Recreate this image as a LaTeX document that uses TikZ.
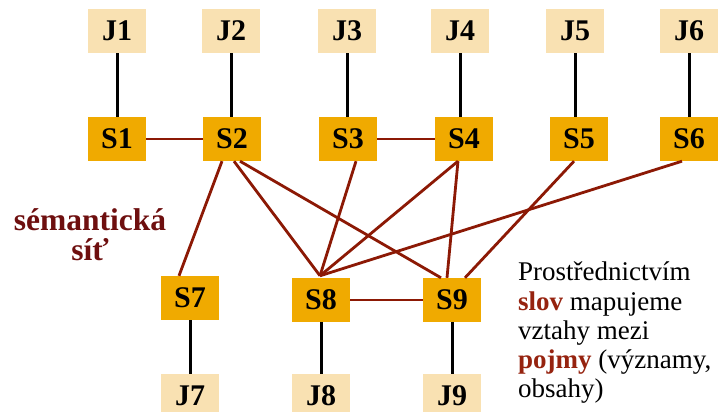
\documentclass[tikz,border=0pt]{standalone}
\usepackage{fontspec}
\setmainfont{Liberation Serif}
\definecolor{jfill}{RGB}{249,225,178}
\definecolor{sfill}{RGB}{240,170,0}
\definecolor{linkc}{RGB}{140,25,5}
\definecolor{titlec}{RGB}{110,15,15}
\definecolor{emc}{RGB}{150,35,15}
\begin{document}
\begin{tikzpicture}[x=1pt,y=-1pt,
  jbox/.style={fill=jfill,minimum width=58pt,minimum height=44pt,inner sep=0pt,font=\fontsize{30}{32}\selectfont\bfseries},
  sbox/.style={fill=sfill,minimum width=58pt,minimum height=44pt,inner sep=0pt,font=\fontsize{30}{32}\selectfont\bfseries},
  vlink/.style={draw=black,line width=3pt},
  link/.style={draw=linkc,line width=2.8pt},
  body/.style={anchor=base west,inner sep=0pt,font=\fontsize{27}{29}\selectfont},
  ttl/.style={anchor=base,inner sep=0pt,text=titlec,font=\fontsize{31.5}{32}\selectfont\bfseries}]
\clip (0,0) rectangle (724,412);
\fill[white] (0,0) rectangle (724,412);
% J nodes top
\node[jbox] (J1) at (117,31) {J1};
\node[jbox] (J2) at (231,31) {J2};
\node[jbox] (J3) at (347,31) {J3};
\node[jbox] (J4) at (460,31) {J4};
\node[jbox] (J5) at (575,31) {J5};
\node[jbox] (J6) at (689,31) {J6};
% S nodes
\node[sbox] (S1) at (117,139) {S1};
\node[sbox] (S2) at (232,139) {S2};
\node[sbox] (S3) at (348,139) {S3};
\node[sbox] (S4) at (464,139) {S4};
\node[sbox] (S5) at (579,139) {S5};
\node[sbox] (S6) at (689,139) {S6};
\node[sbox] (S7) at (190,298) {S7};
\node[sbox] (S8) at (321,300) {S8};
\node[sbox] (S9) at (452,300) {S9};
% J nodes bottom
\node[jbox] (J7) at (190,396) {J7};
\node[jbox] (J8) at (321,396) {J8};
\node[jbox] (J9) at (452,396) {J9};
% vertical black links
\foreach \a/\b in {J1/S1,J2/S2,J3/S3,J4/S4,J5/S5,J6/S6}
  \draw[vlink] (\a.south) -- (\a.south |- \b.north);
\foreach \a/\b in {S7/J7,S8/J8,S9/J9}
  \draw[vlink] (\a.south) -- (\a.south |- \b.north);
% brown links
\draw[link] (S1.east) -- (S2.west);
\draw[link] (S3.east) -- (S4.west);
\draw[link] (S8.east) -- (S9.west);
\coordinate (S8top) at ([xshift=-1pt,yshift=2pt]S8.north);
\draw[link] ([xshift=-10pt]S2.south) -- ([xshift=-11pt]S7.north);
\draw[link] ([xshift=2pt]S2.south) -- (S8top);
\draw[link] ([xshift=8pt]S2.south) -- ([xshift=-11pt]S9.north);
\draw[link] ([xshift=8pt]S3.south) -- (S8top);
\draw[link] ([xshift=-6pt]S4.south) -- (S8top);
\draw[link] ([xshift=-6pt]S4.south) -- ([xshift=-5pt]S9.north);
\draw[link] ([xshift=-7pt]S6.south) -- (S8top);
\draw[link] ([xshift=-5pt]S5.south) -- ([xshift=13pt]S9.north);
% left title
\node[ttl] (t1) at (90,230) {sémantická};
\node[ttl] (t2) at (90,260) {síť};
% right text
\node[body] (b1) at (518,280) {Prostřednictvím};
\node[body] (b2) at (518,310) {\textbf{\color{emc}slov} mapujeme};
\node[body] (b3) at (518,339) {vztahy mezi};
\node[body] (b4) at (518,368) {\textbf{\color{emc}pojmy} (významy,};
\node[body] (b5) at (518,397) {obsahy)};
\end{tikzpicture}
\end{document}
